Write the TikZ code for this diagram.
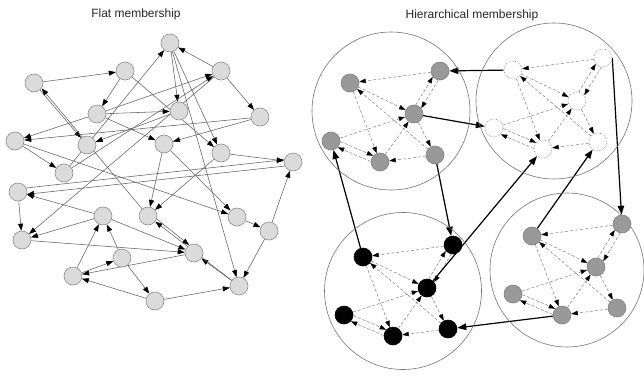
\documentclass[tikz,border=0pt]{standalone}
\usepackage{fontspec}
\setmainfont{Liberation Sans}
\usetikzlibrary{arrows.meta}
\pgfdeclarelayer{bg}
\pgfsetlayers{bg,main}
\tikzset{
  fnode/.style={circle,draw=black!45,fill=black!14,line width=0.6pt,minimum size=18pt,inner sep=0pt},
  fedge/.style={draw=black!62,line width=0.55pt,-{Triangle[length=7pt,width=5pt,color=black]}},
  grp/.style={circle,draw=black!55,line width=0.6pt,inner sep=0pt},
  hg/.style={circle,draw=black!50,fill=black!40,line width=0.6pt,minimum size=18pt,inner sep=0pt},
  hw/.style={circle,draw=black!50,densely dotted,fill=white,line width=0.6pt,minimum size=18pt,inner sep=0pt},
  hb/.style={circle,draw=black,fill=black,line width=0.6pt,minimum size=18pt,inner sep=0pt},
  iedge/.style={draw=black!55,densely dashed,line width=0.45pt,-{Triangle[length=6.5pt,width=4.5pt,color=black]}},
  bedge/.style={draw=black,line width=1.2pt,-{Triangle[length=9pt,width=6.5pt]}},
  title/.style={font=\fontsize{12}{14}\selectfont,anchor=base,text=black!85}
}
\newcommand{\mkcluster}[7]{%
  \node[grp,minimum size=#7pt] (#1g) at (#5,#6) {};
  \node[#4] (#1a) at (#2,#3) {};
  \node[#4] (#1b) at ({#2+90},{#3-12}) {};
  \node[#4] (#1c) at ({#2+64},{#3+31}) {};
  \node[#4] (#1d) at ({#2-19},{#3+58}) {};
  \node[#4] (#1e) at ({#2+30},{#3+79}) {};
  \node[#4] (#1f) at ({#2+85},{#3+72}) {};
  \begin{pgfonlayer}{bg}
  \draw[iedge] (#1b) -- (#1a);
  \draw[iedge] (#1b.259) -- (#1c.39);
  \draw[iedge] (#1c.79) -- (#1b.219);
  \draw[iedge] (#1a) -- (#1c);
  \draw[iedge] (#1a) -- (#1e);
  \draw[iedge] (#1f) -- (#1a);
  \draw[iedge] (#1c) -- (#1f);
  \draw[iedge] (#1d) -- (#1c);
  \draw[iedge] (#1d.357) -- (#1e.137);
  \draw[iedge] (#1e.177) -- (#1d.317);
  \draw[iedge] (#1e) -- (#1c);
  \draw[iedge] (#1f) -- (#1e);
  \end{pgfonlayer}
}
\begin{document}
\begin{tikzpicture}[x=1pt,y=-1pt]
\useasboundingbox (0,0) rectangle (644,375);
\node[title] (t1) at (136,17.5) {Flat membership};
\node[title] (t2) at (472,18) {Hierarchical membership};

% flat graph nodes
\node[fnode] (fA) at (170,43) {};
\node[fnode] (fB) at (125,71) {};
\node[fnode] (fC) at (34,83) {};
\node[fnode] (fD) at (221,71) {};
\node[fnode] (fE) at (97,114) {};
\node[fnode] (fF) at (179,111) {};
\node[fnode] (fG) at (260,117) {};
\node[fnode] (fH) at (15,141) {};
\node[fnode] (fI) at (87,145) {};
\node[fnode] (fJ) at (164,144) {};
\node[fnode] (fK) at (221,153) {};
\node[fnode] (fL) at (293,162) {};
\node[fnode] (fM) at (64,173) {};
\node[fnode] (fN) at (18,192) {};
\node[fnode] (fO) at (103,216) {};
\node[fnode] (fP) at (148,216) {};
\node[fnode] (fQ) at (237,217) {};
\node[fnode] (fR) at (269,231) {};
\node[fnode] (fS) at (22,240) {};
\node[fnode] (fT) at (194,253) {};
\node[fnode] (fU) at (122,258) {};
\node[fnode] (fV) at (73,276) {};
\node[fnode] (fW) at (239,286) {};
\node[fnode] (fX) at (155,301) {};

\begin{pgfonlayer}{bg}
\draw[fedge] (fC) -- (fB);
\draw[fedge] (fB) -- (fE);
\draw[fedge] (fB) -- (fK);
\draw[fedge] (fA) -- (fF);
\draw[fedge] (fD) -- (fA);
\draw[fedge] (fD) -- (fG);
\draw[fedge] (fM) -- (fA);
\draw[fedge] (fC) -- (fI);
\draw[fedge] (fP) -- (fC.-35);
\draw[fedge] (fE) -- (fF);
\draw[fedge] (fE) -- (fH);
\draw[fedge] (fG) -- (fH);
\draw[fedge] (fG) -- (fJ);
\draw[fedge] (fE) -- (fJ);
\draw[fedge] (fM) -- (fD);
\draw[fedge] (fE) -- (fD);
\draw[fedge] (fF) -- (fI);
\draw[fedge] (fH) -- (fM);
\draw[fedge] (fA) -- (fK);
\draw[fedge] (fA) -- (fW);
\draw[fedge] (fJ) -- (fQ);
\draw[fedge] (fH) -- (fQ);
\draw[fedge] (fN.26) -- (fL.166);
\draw[fedge] (fL.206) -- (fN.346);
\draw[fedge] (fN) -- (fS);
\draw[fedge] (fD) -- (fS);
\draw[fedge] (fO) -- (fS);
\draw[fedge] (fV) -- (fO);
\draw[fedge] (fU) -- (fO);
\draw[fedge] (fS) -- (fT);
\draw[fedge] (fO) -- (fT);
\draw[fedge] (fP.341) -- (fT.121);
\draw[fedge] (fW) -- (fT);
\draw[fedge] (fW) -- (fP);
\draw[fedge] (fJ) -- (fP);
\draw[fedge] (fK) -- (fP);
\draw[fedge] (fV) -- (fU);
\draw[fedge] (fU) -- (fX);
\draw[fedge] (fT) -- (fV);
\draw[fedge] (fX) -- (fV);
\draw[fedge] (fX) -- (fW);
\draw[fedge] (fR) -- (fW);
\draw[fedge] (fR) -- (fL);
\draw[fedge] (fQ) -- (fR);
\draw[fedge] (fK) -- (fL);
\draw[fedge] (fO) -- (fN);
\end{pgfonlayer}

% hierarchical clusters
\mkcluster{p}{350}{83}{hg}{391}{111}{158}
\mkcluster{q}{513}{70}{hw}{554}{101}{156}
\mkcluster{r}{363}{257}{hb}{403}{291}{157}
\mkcluster{s}{532}{236}{hg}{567}{270}{154}

\begin{pgfonlayer}{bg}
\draw[bedge] (qa) -- (pb);
\draw[bedge] (pc) -- (qd);
\draw[bedge] (ra) -- (pd);
\draw[bedge] (pf) -- (rb);
\draw[bedge] (rc) -- (qe);
\draw[bedge] (sa) -- (qf);
\draw[bedge] (qb.east) -- (sb);
\draw[bedge] (se) -- (rf);
\end{pgfonlayer}
\end{tikzpicture}
\end{document}
